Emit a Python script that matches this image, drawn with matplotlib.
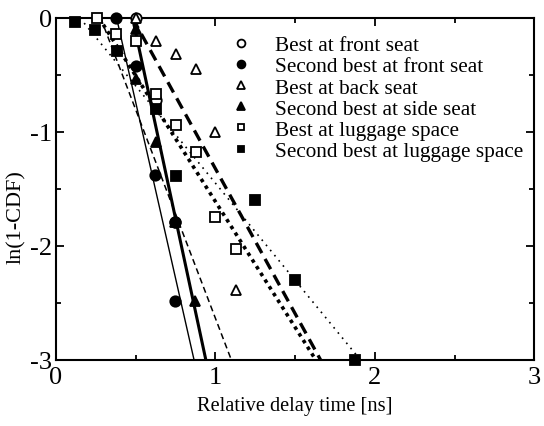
import matplotlib
matplotlib.use("Agg")
import matplotlib.pyplot as plt
from matplotlib.ticker import MultipleLocator

plt.rcParams['font.family'] = ['Liberation Serif', 'DejaVu Serif']
plt.rcParams['axes.unicode_minus'] = False

# | Data |------------------------------------------------------------------------|
labels = ["Best at front seat", "Second best at front seat", "Best at back seat",
          "Second best at side seat", "Best at luggage space", "Second best at luggage space"]

x_front_best = [0.50, 0.627, 0.746]
y_front_best = [0.00, -0.72, -1.79]

x_front_second = [0.376, 0.50, 0.623, 0.746, 0.746]
y_front_second = [0.00, -0.42, -1.38, -1.79, -2.48]

x_back_best = [0.50, 0.627, 0.753, 0.876, 1.00, 1.127]
y_back_best = [0.00, -0.20, -0.316, -0.447, -1.00, -2.39]

x_side_second = [0.50, 0.50, 0.627, 0.746, 0.872]
y_side_second = [-0.10, -0.535, -1.09, -1.79, -2.48]

x_lug_best = [0.255, 0.377, 0.502, 0.627, 0.753, 0.876, 1.00, 1.127]
y_lug_best = [0.00, -0.14, -0.20, -0.667, -0.94, -1.18, -1.75, -2.03]

x_lug_second = [0.12, 0.245, 0.38, 0.627, 0.753, 1.248, 1.50, 1.876]
y_lug_second = [-0.035, -0.11, -0.29, -0.80, -1.39, -1.60, -2.30, -3.00]

# fitted lines: delay where ln(1-CDF)=0 and where it reaches -3
fit_x0 = [0.48, 0.38, 0.48, 0.28, 0.27, 0.15]
fit_x3 = [0.94, 0.866, 1.66, 1.10, 1.63, 1.91]
fit_y = [0, -3]
# |-------------------------------------------------------------------------------|

xs = [x_front_best, x_front_second, x_back_best, x_side_second, x_lug_best, x_lug_second]
ys = [y_front_best, y_front_second, y_back_best, y_side_second, y_lug_best, y_lug_second]
markers = ["o", "o", "^", "^", "s", "s"]
faces = ["white", "black", "white", "black", "white", "black"]
msizes = [7.5, 7.5, 7.5, 7.5, 6.5, 6.5]
line_styles = [("-", 2.2), ("-", 1.0), ((0, (3.5, 2)), 2.4), ((0, (4, 2.5)), 1.1),
               ((0, (1, 1.2)), 2.6), ((0, (1, 3)), 1.2)]

fig = plt.figure(figsize=(5.44, 4.27), dpi=100)
ax = fig.add_axes([0.103, 0.1546, 0.879, 0.801])

for x0, x3, (ls, lw) in zip(fit_x0, fit_x3, line_styles):
    ax.plot([x0, x3], fit_y, color="black", linestyle=ls, linewidth=lw, zorder=2)

for x, y, m, fc, ms, lab in zip(xs, ys, markers, faces, msizes, labels):
    ax.plot(x, y, linestyle="none", marker=m, markersize=ms, markerfacecolor=fc,
            markeredgecolor="black", markeredgewidth=1.3, clip_on=False, zorder=3, label=lab)

ax.set_xlim(0, 3)
ax.set_ylim(-3, 0)
ax.xaxis.set_major_locator(MultipleLocator(1))
ax.xaxis.set_minor_locator(MultipleLocator(0.5))
ax.yaxis.set_major_locator(MultipleLocator(1))
ax.yaxis.set_minor_locator(MultipleLocator(0.5))
ax.tick_params(which="both", direction="in", top=True, right=True, width=1.3, labelsize=19)
ax.tick_params(which="major", length=6)
ax.tick_params(which="minor", length=3.5)
ax.tick_params(axis="x", pad=4)
ax.tick_params(axis="y", pad=3)
for sp in ax.spines.values():
    sp.set_linewidth(1.5)

ax.set_xlabel("Relative delay time [ns]", fontsize=14.7, labelpad=6)
ax.set_ylabel("ln(1-CDF)", fontsize=16)
ax.yaxis.set_label_coords(-0.062, 0.42)

ax.legend(loc="upper right", bbox_to_anchor=(1.0, 0.98), frameon=False, fontsize=15.3,
          markerscale=0.75, handletextpad=1.1, labelspacing=0.06, borderaxespad=0.1,
          handlelength=1.0)

fig.savefig("out.png", dpi=100)
